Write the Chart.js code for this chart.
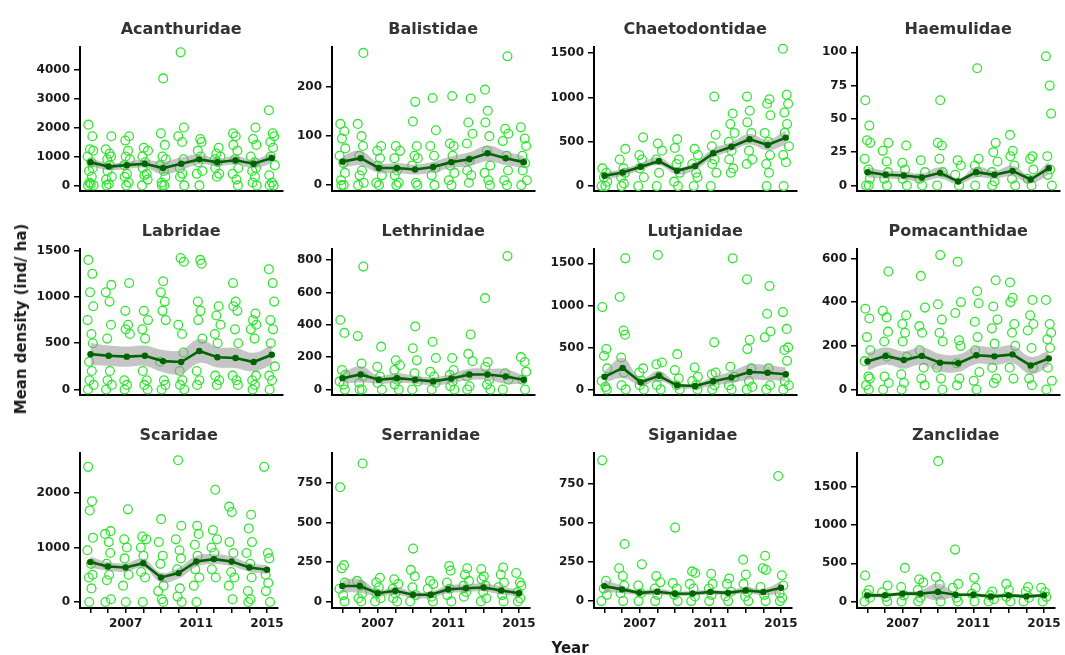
<!DOCTYPE html>
<html><head><meta charset="utf-8">
<script src="https://cdn.jsdelivr.net/npm/chart.js@4.4.1/dist/chart.umd.min.js"></script>
<style>
body{margin:0;background:#fff;}
#wrap{position:relative;width:1065px;height:655px;overflow:hidden;background:#fff;}
#wrap canvas{position:absolute;}
.axt{position:absolute;font:bold 15px "DejaVu Sans";color:#1a1a1a;white-space:nowrap;}
</style></head><body><div id="wrap"></div>
<script>
// ---------------- DATA ----------------
const years = [2005,2006,2007,2008,2009,2010,2011,2012,2013,2014,2015];
const xTickLabels = [2007, 2011, 2015];
const families = ["Acanthuridae","Balistidae","Chaetodontidae","Haemulidae","Labridae","Lethrinidae","Lutjanidae","Pomacanthidae","Scaridae","Serranidae","Siganidae","Zanclidae"];

const acanthuridaeMean = [800,650,700,750,600,750,900,800,870,750,950];
const acanthuridaeCI   = [150,120,130,140,220,220,170,130,150,150,190];
const acanthuridaeRaw  = [
  [2100,1700,1250,1200,1000,800,600,500,300,100,0,0,50],
  [1700,1250,1100,1000,900,700,500,300,200,50,0],
  [1700,1550,1200,1000,900,700,400,300,100,0],
  [1300,1200,1000,800,600,400,350,200,0],
  [3700,1800,1400,1000,900,700,500,300,100,0,0],
  [4600,2000,1700,1500,900,600,400,300,0],
  [1600,1500,1200,1000,800,500,400,0],
  [1300,1100,1000,900,800,600,400,300],
  [1800,1700,1400,1200,900,600,400,200,0],
  [2000,1600,1400,1000,800,600,500,300,100,0],
  [2600,1800,1700,1500,1300,1000,700,350,100,0,0]];
const acanthuridaeTicks = [0,1000,2000,3000,4000];
const acanthuridaeRange = [-187,4785];

const balistidaeMean = [48,55,35,35,32,37,47,53,65,55,47];
const balistidaeCI   = [12,15,10,10,10,11,12,14,16,14,12];
const balistidaeRaw  = [
  [125,110,95,75,60,45,25,10,0,0],
  [270,125,100,80,60,30,20,5,0],
  [80,70,55,40,20,5,0],
  [80,70,55,30,20,5,0],
  [170,130,80,60,55,40,5,0],
  [178,112,80,60,35,20,0],
  [182,80,85,60,40,25,10,0],
  [177,128,105,85,50,30,20,5],
  [195,152,128,100,70,40,25,10,0],
  [263,115,105,90,60,30,10,0],
  [118,95,80,60,45,30,10,0]];
const balistidaeTicks = [0,100,200];
const balistidaeRange = [-11.5,282];

const chaetodontidaeMean = [117,153,219,281,172,226,372,445,529,464,547];
const chaetodontidaeCI   = [40,40,40,45,40,45,50,50,60,60,80];
const chaetodontidaeRaw  = [
  [200,150,100,50,0,0],
  [420,300,200,150,100,30,0],
  [550,350,300,200,100,0],
  [480,400,300,150,0],
  [530,430,300,250,150,50,0],
  [420,350,250,150,100,0],
  [1010,580,450,300,250,150,0],
  [820,700,600,500,400,300,200,150],
  [1010,850,720,600,400,300,250],
  [980,930,800,600,500,350,250,150,0],
  [1550,1030,930,830,700,600,450,350,270,0]];
const chaetodontidaeTicks = [0,500,1000,1500];
const chaetodontidaeRange = [-53,1570];

const haemulidaeMean = [10,8,7.5,6,9.5,3,10,8,11,4.5,13];
const haemulidaeCI   = [4,3,3,3,4,2,4,3,4,3,5];
const haemulidaeRaw  = [
  [64,45,34,32,20,12,5,0,0],
  [32,26,18,10,5,0],
  [30,17,12,5,0],
  [19,10,5,0],
  [64,32,30,20,10,0],
  [19,15,8,0],
  [88,20,15,10,0],
  [32,25,18,10,3,0],
  [38,26,22,15,5,0],
  [22,20,12,5,0],
  [97,75,54,22,12,8,0]];
const haemulidaeTicks = [0,25,50,75,100];
const haemulidaeRange = [-4,104];

const labridaeMean = [382,365,355,365,307,297,416,348,341,297,375];
const labridaeCI   = [120,110,110,110,120,130,130,110,110,100,110];
const labridaeRaw  = [
  [1400,1250,1050,900,750,600,500,300,200,100,50,0],
  [1130,1050,950,700,550,200,100,50,0],
  [1150,850,700,650,600,100,50,0],
  [850,750,650,550,200,100,50,0],
  [1170,1050,950,850,750,300,100,50,0],
  [1420,1380,700,600,400,200,100,50,0],
  [1400,1360,950,850,750,550,200,100,50],
  [900,800,700,600,500,150,100,50],
  [1150,950,900,850,650,500,150,100,50],
  [820,750,700,650,550,150,100,50,0],
  [1300,1150,950,750,650,500,250,150,100,0]];
const labridaeTicks = [0,500,1000,1500];
const labridaeRange = [-57,1518];

const lethrinidaeMean = [70,93,60,70,60,50,68,93,93,80,60];
const lethrinidaeCI   = [35,50,25,30,25,25,30,35,35,45,25];
const lethrinidaeRaw  = [
  [430,350,120,90,50,30,0],
  [760,330,160,80,40,0,0],
  [265,140,80,40,0],
  [180,150,120,60,30,0],
  [390,255,180,100,50,0],
  [295,195,110,80,40,0],
  [195,120,90,50,20,0],
  [340,220,175,80,20,0],
  [565,170,140,60,30,0],
  [825,100,60,0],
  [200,170,110,60,0]];
const lethrinidaeTicks = [0,200,400,600,800];
const lethrinidaeRange = [-33,869];

const lutjanidaeMean = [150,256,86,162,49,41,98,143,207,199,180];
const lutjanidaeCI   = [70,120,40,60,30,30,50,70,90,90,80];
const lutjanidaeRaw  = [
  [980,480,400,250,100,30,0],
  [1560,1100,700,650,380,200,50,0],
  [250,200,100,50,0],
  [1600,320,300,150,50,0],
  [420,230,130,50,0],
  [260,150,100,50,0],
  [560,200,180,50,0],
  [1560,270,150,50,0],
  [1310,590,480,250,100,30,0],
  [1230,900,690,620,250,50,0],
  [920,720,500,470,340,100,50,0]];
const lutjanidaeTicks = [0,500,1000,1500];
const lutjanidaeRange = [-64,1671];

const pomacanthidaeMean = [128,154,135,154,123,120,157,152,161,110,142];
const pomacanthidaeCI   = [40,40,40,40,40,40,40,40,40,40,35];
const pomacanthidaeRaw  = [
  [370,325,240,180,130,60,50,20,0],
  [540,360,330,265,220,150,60,30,0],
  [340,300,260,220,150,70,30,0],
  [520,375,290,260,180,100,50,20],
  [615,390,320,260,220,100,50,0],
  [585,400,350,225,200,120,50,20],
  [450,395,310,240,180,80,40,0],
  [500,380,320,280,210,100,50,30],
  [490,420,400,300,260,200,100,50],
  [410,340,300,270,190,100,50,20],
  [410,300,260,230,190,100,40,0]];
const pomacanthidaeTicks = [0,200,400,600];
const pomacanthidaeRange = [-24,643];

const scaridaeMean = [732,652,634,713,451,530,744,787,744,634,591];
const scaridaeCI   = [100,80,80,80,90,100,100,90,90,80,80];
const scaridaeRaw  = [
  [2480,1850,1680,1180,950,700,500,450,250,0],
  [1300,1250,1100,900,700,500,400,50,0],
  [1700,1150,1000,800,500,300,0],
  [1200,1150,1000,850,550,450,0],
  [1520,1100,850,700,300,200,50,0],
  [2600,1400,1150,950,800,600,250,100,0],
  [1400,1250,1050,850,600,450,300,0],
  [2060,1320,1150,1000,900,600,450],
  [1750,1650,1100,900,550,450,300,50],
  [1600,1350,1100,900,700,450,200,50,0],
  [2480,900,800,500,350,200,0]];
const scaridaeTicks = [0,1000,2000];
const scaridaeRange = [-110,2734];

const serranidaeMean = [98,98,52,67,42,42,77,83,88,69,52];
const serranidaeCI   = [40,45,20,25,20,20,25,25,25,25,20];
const serranidaeRaw  = [
  [725,230,210,120,80,40,0],
  [875,130,100,50,20,0],
  [150,120,90,50,20,0],
  [140,110,80,50,20,0],
  [335,200,160,90,40,0],
  [130,110,80,30,0],
  [225,195,120,80,40,0],
  [210,170,130,100,60,30],
  [205,160,140,100,60,20,0],
  [215,170,120,90,40,0],
  [180,120,100,60,20,0]];
const serranidaeTicks = [0,250,500,750];
const serranidaeRange = [-42,942];

const siganidaeMean = [96,75,53,60,47,49,58,53,68,58,85];
const siganidaeCI   = [40,25,15,20,15,15,15,15,20,20,40];
const siganidaeRaw  = [
  [900,130,80,40,0],
  [365,210,160,100,50,0],
  [235,100,50,0],
  [160,120,80,40,0],
  [470,115,80,40,0],
  [190,180,110,80,30,0],
  [175,110,80,40,0],
  [145,110,60,30,0],
  [265,170,110,60,30,0],
  [290,210,200,90,40,0],
  [800,165,100,50,20,0]];
const siganidaeTicks = [0,250,500,750];
const siganidaeRange = [-44,947];

const zanclidaeMean = [80,80,102,102,124,88,88,66,80,66,80];
const zanclidaeCI   = [30,25,25,40,110,25,25,20,25,20,20];
const zanclidaeRaw  = [
  [340,150,100,50,0],
  [210,120,60,0],
  [440,190,80,0],
  [290,250,150,50,0],
  [1840,320,220,100,0],
  [680,230,180,50,0],
  [310,180,100,0],
  [130,80,30,0],
  [230,150,60,0],
  [190,130,50,0],
  [180,120,60,0]];
const zanclidaeTicks = [0,500,1000,1500];
const zanclidaeRange = [-86,1947];

// ---------------- LAYOUT / STYLE ----------------
const panels = [
  [acanthuridaeMean,acanthuridaeCI,acanthuridaeRaw,acanthuridaeTicks,acanthuridaeRange],
  [balistidaeMean,balistidaeCI,balistidaeRaw,balistidaeTicks,balistidaeRange],
  [chaetodontidaeMean,chaetodontidaeCI,chaetodontidaeRaw,chaetodontidaeTicks,chaetodontidaeRange],
  [haemulidaeMean,haemulidaeCI,haemulidaeRaw,haemulidaeTicks,haemulidaeRange],
  [labridaeMean,labridaeCI,labridaeRaw,labridaeTicks,labridaeRange],
  [lethrinidaeMean,lethrinidaeCI,lethrinidaeRaw,lethrinidaeTicks,lethrinidaeRange],
  [lutjanidaeMean,lutjanidaeCI,lutjanidaeRaw,lutjanidaeTicks,lutjanidaeRange],
  [pomacanthidaeMean,pomacanthidaeCI,pomacanthidaeRaw,pomacanthidaeTicks,pomacanthidaeRange],
  [scaridaeMean,scaridaeCI,scaridaeRaw,scaridaeTicks,scaridaeRange],
  [serranidaeMean,serranidaeCI,serranidaeRaw,serranidaeTicks,serranidaeRange],
  [siganidaeMean,siganidaeCI,siganidaeRaw,siganidaeTicks,siganidaeRange],
  [zanclidaeMean,zanclidaeCI,zanclidaeRaw,zanclidaeTicks,zanclidaeRange]
];
const COL_X = [80, 332, 594, 857];
const ROW_TOP = [47, 249, 453];
const ROW_BOTTOM = [199, 403, 608];
const PLOT_W = 204, LEFT = 62, TOP = 27, RIGHT = 4;
const X_MIN = 2004.42, X_MAX = 2015.58;
// fixed narrow horizontal jitter pattern for raw points (presentation only)
const JITTER = [-0.12,0.1,-0.03,0.15,-0.16,0.05,0.13,-0.08,0.07,-0.06,0.17,-0.14,0.01];

const FONT = '"DejaVu Sans"';
Chart.defaults.font.family = FONT;
Chart.defaults.color = '#1a1a1a';

const panelTitle = {
  id: 'panelTitle',
  afterDraw(chart, args, opts) {
    const {ctx, chartArea: a} = chart;
    ctx.save();
    ctx.font = 'bold 16px ' + FONT;
    ctx.fillStyle = '#333';
    ctx.textAlign = 'center';
    ctx.textBaseline = 'middle';
    ctx.fillText(opts.text, (a.left + a.right) / 2, a.top - 17.5);
    ctx.restore();
  }
};

const wrap = document.getElementById('wrap');
panels.forEach((p, i) => {
  const [mean, ci, raw, yticks, yrange] = p;
  const r = Math.floor(i / 4), c = i % 4;
  const bottomH = r === 2 ? 30 : 3;
  const plotH = ROW_BOTTOM[r] - ROW_TOP[r];
  const cv = document.createElement('canvas');
  cv.width = LEFT + PLOT_W + RIGHT;
  cv.height = TOP + plotH + bottomH;
  cv.style.left = (COL_X[c] - LEFT) + 'px';
  cv.style.top = (ROW_TOP[r] - TOP) + 'px';
  wrap.appendChild(cv);

  const pts = [];
  raw.forEach((vals, yi) => vals.forEach((v, k) => {
    pts.push({x: years[yi] + JITTER[(k + yi * 3) % JITTER.length], y: v});
  }));
  const meanPts = years.map((yr, j) => ({x: yr, y: mean[j]}));
  const upPts = years.map((yr, j) => ({x: yr, y: mean[j] + ci[j]}));
  const loPts = years.map((yr, j) => ({x: yr, y: mean[j] - ci[j]}));

  new Chart(cv, {
    type: 'scatter',
    data: {
      datasets: [
        {type: 'line', data: meanPts, borderColor: '#006400', borderWidth: 2.6,
         pointRadius: 3.2, pointBackgroundColor: '#006400', pointBorderWidth: 0,
         fill: false, tension: 0, order: 0, clip: false},
        {type: 'line', data: upPts, borderWidth: 0, pointRadius: 0, fill: false,
         tension: 0.4, order: 1},
        {type: 'line', data: loPts, borderWidth: 0, pointRadius: 0, fill: '-1',
         backgroundColor: 'rgba(150,150,150,0.55)', tension: 0.4, order: 1},
        {type: 'scatter', data: pts, pointStyle: 'circle', pointRadius: 4.4,
         pointBorderWidth: 1.3, pointBorderColor: '#2fe62f',
         pointBackgroundColor: 'rgba(0,0,0,0)', order: 2, clip: false}
      ]
    },
    options: {
      responsive: false, animation: false, devicePixelRatio: 1,
      layout: {padding: {top: TOP, left: 0, right: RIGHT, bottom: 0}},
      plugins: {legend: {display: false}, tooltip: {enabled: false},
                panelTitle: {text: families[i]}},
      scales: {
        x: {
          type: 'linear', min: X_MIN, max: X_MAX,
          afterBuildTicks: s => { s.ticks = years.map(v => ({value: v})); },
          afterFit: s => { s.height = bottomH; },
          border: {display: true, color: '#000', width: 2},
          grid: {display: r === 2, drawOnChartArea: false, drawTicks: true,
                 tickLength: 5, color: '#000', lineWidth: 1.5},
          ticks: {display: r === 2, autoSkip: false, maxRotation: 0, padding: 4,
                  color: '#1a1a1a', font: {size: 12, weight: 'bold'},
                  callback: v => xTickLabels.includes(v) ? String(v) : ''}
        },
        y: {
          type: 'linear', min: yrange[0], max: yrange[1],
          afterBuildTicks: s => { s.ticks = yticks.map(v => ({value: v})); },
          afterFit: s => { s.width = LEFT; },
          border: {display: true, color: '#000', width: 2},
          grid: {display: true, drawOnChartArea: false, drawTicks: true,
                 tickLength: 6, color: '#000', lineWidth: 1.5},
          ticks: {padding: 4, color: '#1a1a1a', font: {size: 12, weight: 'bold'},
                  callback: v => String(v)}
        }
      }
    },
    plugins: [panelTitle]
  });
});

const yt = document.createElement('div');
yt.className = 'axt';
yt.textContent = 'Mean density (ind/ ha)';
yt.style.left = '21px'; yt.style.top = '319px';
yt.style.transform = 'translate(-50%,-50%) rotate(-90deg)';
wrap.appendChild(yt);
const xt = document.createElement('div');
xt.className = 'axt';
xt.textContent = 'Year';
xt.style.left = '570px'; xt.style.top = '648px';
xt.style.transform = 'translate(-50%,-50%)';
wrap.appendChild(xt);
</script></body></html>
